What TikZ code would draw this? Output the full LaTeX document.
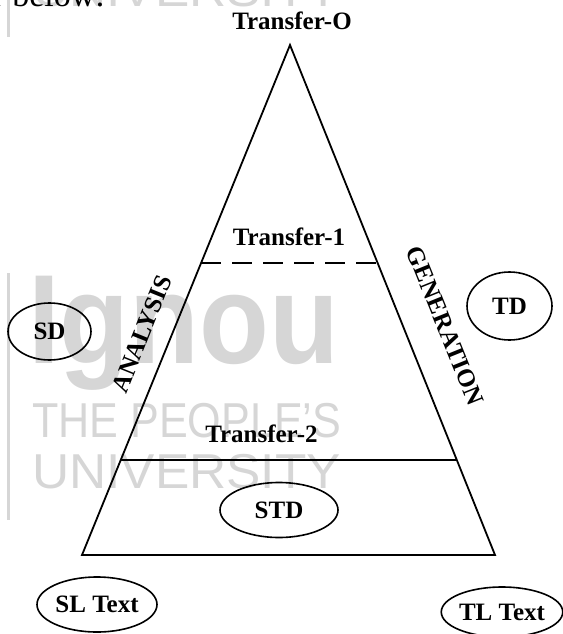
\documentclass[tikz,border=0pt]{standalone}
\usepackage{fontspec}
\setmainfont{Liberation Serif}
\newfontfamily\wmfont{Liberation Sans}
\usetikzlibrary{shapes.geometric,calc}
\begin{document}
\begin{tikzpicture}[x=1pt,y=-1pt,
  lbl/.style={font=\fontsize{25}{28}\selectfont\bfseries, inner sep=0pt},
  oval/.style={draw, ellipse, line width=1.6pt, inner sep=0pt,
    font=\fontsize{25}{28}\selectfont\bfseries},
  edge/.style={line width=1.8pt, line join=miter},
  wm/.style={text=black!16, inner sep=0pt, anchor=base west},
  wmline/.style={draw=black!16, line width=3pt}]
\useasboundingbox (0,0) rectangle (562,634);
% watermark (lower copy)
\node[wm, font=\wmfont\bfseries\fontsize{127}{127}\selectfont, xscale=0.9] (wmi) at (28,363) {Ignou};
\node[wm, font=\wmfont\fontsize{49}{49}\selectfont, xscale=0.88] (wmp) at (32,437) {THE PEOPLE’S};
\node[wm, font=\wmfont\fontsize{49}{49}\selectfont, xscale=1.05] (wmu) at (32,488) {UNIVERSITY};
\coordinate (wl1) at (8,273);
\coordinate (wl2) at (8,520);
\draw[wmline] (wl1) -- (wl2);
% watermark (upper copy, mostly off the page)
\node[wm, font=\wmfont\fontsize{49}{49}\selectfont, xscale=1.05] (wmu2) at (32,7) {UNIVERSITY};
\coordinate (wl3) at (8,-10);
\coordinate (wl4) at (8,37);
\draw[wmline] (wl3) -- (wl4);
% clipped body text
\node[font=\fontsize{34}{36}\selectfont, anchor=base east, inner sep=0pt] (rb) at (105,7) {r below:};
% triangle
\coordinate (apex) at (290,45);
\coordinate (bl) at (82,555);
\coordinate (br) at (495,555);
\draw[edge] (apex) -- (br) -- (bl) -- cycle;
\coordinate (d1) at ($(apex)!0.4275!(bl)$);
\coordinate (d2) at ($(apex)!0.4275!(br)$);
\coordinate (s1) at ($(apex)!0.8137!(bl)$);
\coordinate (s2) at ($(apex)!0.8137!(br)$);
\draw[line width=1.8pt, dash pattern=on 20pt off 11pt] (d1) -- (d2);
\draw[line width=1.8pt] (s1) -- (s2);
% labels
\node[lbl, anchor=base] (t0) at (292,30) {Transfer-O};
\node[lbl, anchor=base] (t1) at (289,245) {Transfer-1};
\node[lbl, anchor=base] (t2) at (261.5,442) {Transfer-2};
\node[lbl, rotate=68] (an) at (142,334) {ANALYSIS};
\node[lbl, rotate=-68] (gen) at (445,326) {GENERATION};
% ovals
\node[oval, minimum width=83pt, minimum height=57pt] (sd) at (49.5,331.5) {SD};
\node[oval, minimum width=85pt, minimum height=68pt] (td) at (509.5,306) {TD};
\node[oval, minimum width=118pt, minimum height=55pt] (std) at (279,510) {STD};
\node[oval, minimum width=120pt, minimum height=55pt] (sl) at (97,604.5) {SL Text};
\node[oval, minimum width=117pt, minimum height=50pt] (tl) at (502,612) {TL Text};
\end{tikzpicture}
\end{document}
